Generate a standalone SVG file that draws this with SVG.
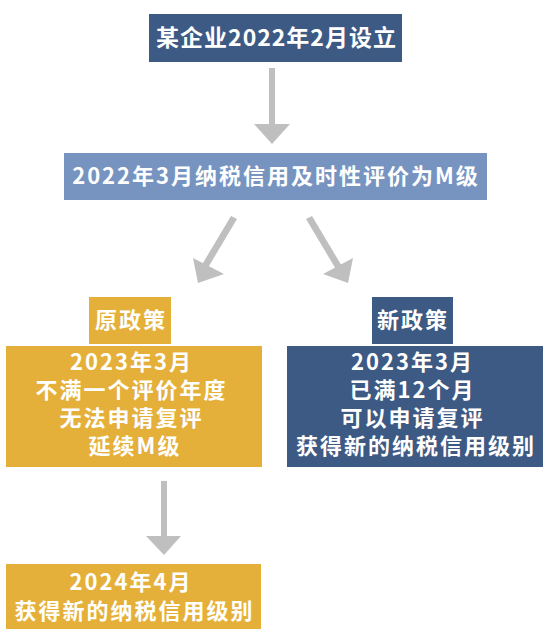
<svg xmlns="http://www.w3.org/2000/svg" width="552" height="636" viewBox="0 0 552 636">
<style>
.t{font-family:"Noto Sans CJK SC","Noto Sans",sans-serif;font-weight:bold;fill:#ffffff;text-anchor:middle}
.dark{fill:#3d5a84}
.light{fill:#7794c1}
.gold{fill:#e5b039}
.arr{fill:#bfbfbf}
</style>
<rect width="552" height="636" fill="#ffffff"/>
<g id="connectors">
<g class="arr">
<rect x="269" y="68" width="6" height="57"/>
<polygon points="254,124 290,124 272,144"/>
</g>
<g class="arr">
<polygon points="231,216 237,219 206,271 200,268"/>
<polygon points="193,258 224,274 198,283"/>
</g>
<g class="arr">
<polygon points="306,219 312,216 343,268 337,271"/>
<polygon points="353,258 323,274 348,283"/>
</g>
<g class="arr">
<rect x="161" y="481" width="6" height="57"/>
<polygon points="146,536 181,536 164,555"/>
</g>
</g>
<g id="n1">
<rect class="dark" x="149" y="14" width="253" height="48"/>
<text class="t" x="276.5" y="46" font-size="23" letter-spacing="1">某企业2022年2月设立</text>
</g>
<g id="n2">
<rect class="light" x="64" y="153" width="423" height="47"/>
<text class="t" x="276" y="184" font-size="22" letter-spacing="2">2022年3月纳税信用及时性评价为M级</text>
</g>
<g id="n3">
<rect class="gold" x="89" y="297" width="82" height="47"/>
<text class="t" x="131" y="328" font-size="22" letter-spacing="2">原政策</text>
</g>
<g id="n4">
<rect class="dark" x="372" y="297" width="81" height="47"/>
<text class="t" x="413" y="328" font-size="22" letter-spacing="2">新政策</text>
</g>
<g id="n5">
<rect class="gold" x="6" y="346" width="256" height="121"/>
<text class="t" font-size="22" letter-spacing="2">
<tspan x="135" y="370">2023年3月</tspan>
<tspan x="135" y="398">不满一个评价年度</tspan>
<tspan x="135" y="426">无法申请复评</tspan>
<tspan x="135" y="454">延续M级</tspan>
</text>
</g>
<g id="n6">
<rect class="dark" x="287" y="346" width="256" height="121"/>
<text class="t" font-size="22" letter-spacing="2">
<tspan x="416" y="370">2023年3月</tspan>
<tspan x="416" y="398">已满12个月</tspan>
<tspan x="416" y="426">可以申请复评</tspan>
<tspan x="416" y="454">获得新的纳税信用级别</tspan>
</text>
</g>
<g id="n7">
<rect class="gold" x="6" y="564" width="255" height="65"/>
<text class="t" font-size="22" letter-spacing="2">
<tspan x="134.5" y="590">2024年4月</tspan>
<tspan x="134.5" y="619">获得新的纳税信用级别</tspan>
</text>
</g>
</svg>
